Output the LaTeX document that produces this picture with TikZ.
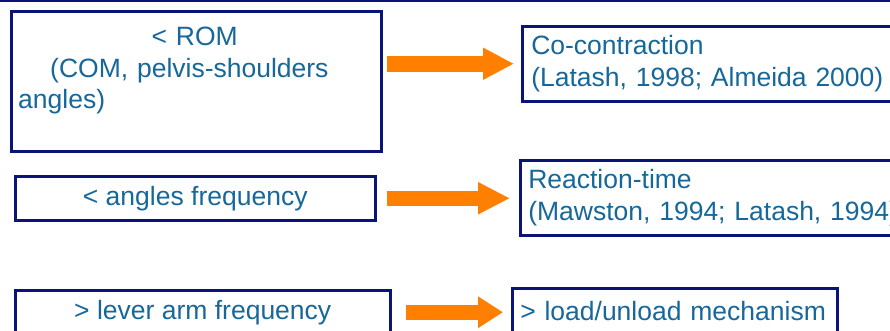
\documentclass[tikz,border=0pt]{standalone}
\usepackage{fontspec}
\setmainfont{Liberation Sans}
\usetikzlibrary{arrows.meta,positioning}
\definecolor{boxnavy}{HTML}{0A1478}
\definecolor{txtblue}{HTML}{16679A}
\definecolor{pushorange}{HTML}{FF8000}

\begin{document}
\begin{tikzpicture}[x=1pt,y=-1pt,
	txt/.style={text=txtblue,font=\fontsize{26.5}{31.5}\selectfont},
	thickbox/.style={draw=boxnavy,line width=3.5pt,inner sep=0pt,anchor=north west},
	thinbox/.style={draw=boxnavy,line width=2.5pt,inner sep=0pt,anchor=north west},
	push/.style={draw=pushorange,line width=15.5pt,-{Triangle[length=#1,width=30pt]}},
	push/.default=31pt]
\useasboundingbox (0,0) rectangle (890,330);
\clip (0,0) rectangle (890,330);
\draw [boxnavy,line width=1.6pt] (0,0.8) -- (890,0.8);
% left column
\node [thickbox,minimum width=370pt,minimum height=140pt] (rom) at (9.5,9.5) {};
\node [txt,anchor=north west,align=left,text width=353pt,inner sep=0pt] (romtext)
	at ([xshift=8.5pt,yshift=-17.5pt]rom.north west)
	{\makebox[353pt][c]{< ROM}\\\hspace*{32pt}(COM, pelvis-shoulders\\angles)};
\node [thickbox,txt,minimum width=360pt,minimum height=44pt] (freq) at (13.5,174.5) {< angles frequency};
\node [thickbox,txt,minimum width=375pt,minimum height=44pt] (lever) at (13.5,288.5) {> lever arm frequency};
% right column
\node [thinbox,txt,align=left,text width=362pt,inner xsep=9pt,minimum height=75pt] (cocon) at (521,25)
	{Co-contraction\\(Latash, 1998; Almeida 2000)};
\node [thinbox,txt,align=left,text width=430pt,inner xsep=8pt,minimum height=75pt] (react) at (519,159)
	{Reaction-time\\(Mawston, 1994; Latash, 1994)};
\node [thinbox,txt,align=left,text width=309pt,inner xsep=8pt,minimum height=46pt] (load) at (511,287)
	{> load/unload mechanism};
% arrows
\draw [push,shorten <=4pt,shorten >=7pt] (rom.east |- cocon.west) -- (cocon.west);
\draw [push=32pt,shorten <=9.5pt,shorten >=9pt] (freq.east) -- (freq.east -| react.west);
\draw [push=25pt,shorten <=13.5pt,shorten >=8pt] (lever.east) -- (lever.east -| load.west);
\end{tikzpicture}
\end{document}
